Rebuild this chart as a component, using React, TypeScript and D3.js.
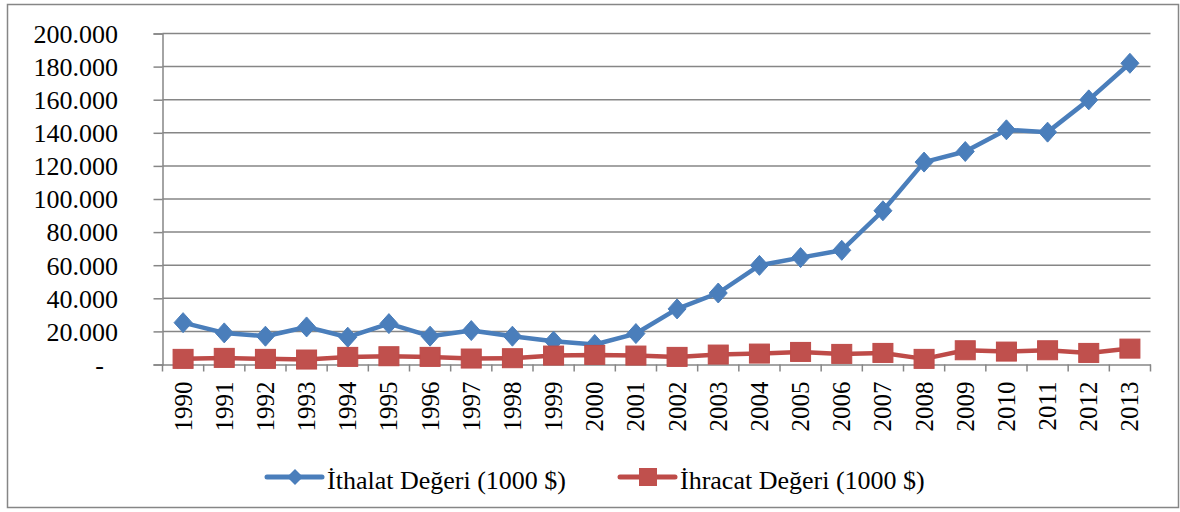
import React, { useRef, useEffect } from 'react';
import * as d3 from 'd3';

const years: string[] = [
    '1990', '1991', '1992', '1993', '1994', '1995', '1996', '1997', '1998', '1999', '2000', '2001',
    '2002', '2003', '2004', '2005', '2006', '2007', '2008', '2009', '2010', '2011', '2012', '2013',
];

// İthalat Değeri (1000 $)
const ithalat: number[] = [
    25300, 19100, 17100, 22700, 16500, 24700, 17100, 20500, 17100, 14100, 12100, 18700,
    33600, 43200, 59900, 64600, 69000, 92900, 122300, 128700, 141800, 140400, 159900, 182000,
];

// İhracat Değeri (1000 $)
const ihracat: number[] = [
    3400, 4000, 3400, 3000, 4600, 5000, 4600, 3600, 3800, 5400, 5800, 5400,
    4600, 6000, 6600, 7600, 6400, 7000, 3400, 8600, 7800, 8600, 7000, 9600,
];

const yTicks: number[] = [0, 20000, 40000, 60000, 80000, 100000, 120000, 140000, 160000, 180000, 200000];

const seriesNames: string[] = ['İthalat Değeri (1000 $)', 'İhracat Değeri (1000 $)'];

const BLUE = '#4A7EBB';
const RED = '#BE4B48';
const GRID = '#868686';
const FONT = "'Liberation Serif', 'Times New Roman', serif";

const trLocale = d3.formatLocale({ decimal: ',', thousands: '.', grouping: [3], currency: ['', ''] });
const fmt = trLocale.format(',');

const App: React.FC = () => {
    const svgRef = useRef<SVGSVGElement | null>(null);

    useEffect(() => {
        if (!svgRef.current) return;
        const svg = d3.select(svgRef.current);
        svg.selectAll('*').remove();

        const width = 1180;
        const height = 512;
        const left = 162.5;
        const right = 1150.5;
        const top = 33.5;
        const bottom = 364.5;

        // outer frame
        svg.append('rect')
            .attr('x', 7.5).attr('y', 4.5)
            .attr('width', 1171).attr('height', 503)
            .attr('fill', '#fff')
            .attr('stroke', GRID)
            .attr('stroke-width', 1.5);

        const x = d3.scaleBand<string>().domain(years).range([left, right]);
        const y = d3.scaleLinear().domain([0, 200000]).range([bottom, top]);
        const cx = (d: string) => (x(d) as number) + x.bandwidth() / 2;

        // gridlines
        svg.append('g')
            .selectAll('line')
            .data(yTicks.filter(t => t > 0))
            .enter()
            .append('line')
            .attr('x1', left).attr('x2', right)
            .attr('y1', d => y(d)).attr('y2', d => y(d))
            .attr('stroke', GRID)
            .attr('stroke-width', 1.5);

        // y axis
        const yAxis = svg.append('g')
            .attr('transform', `translate(${left},0)`)
            .call(d3.axisLeft(y)
                .tickValues(yTicks)
                .tickSize(9)
                .tickPadding(35.5)
                .tickFormat((d: any) => (d === 0 ? '-' : fmt(d))));
        yAxis.select('.domain').attr('stroke', GRID).attr('stroke-width', 1.5);
        yAxis.selectAll('.tick line').attr('stroke', GRID).attr('stroke-width', 1.5);
        yAxis.selectAll('.tick text')
            .attr('font-family', FONT)
            .attr('font-size', 26)
            .attr('fill', '#000')
            .attr('dy', '0.34em');
        yAxis.selectAll('.tick text')
            .filter((d: any) => d === 0)
            .attr('dx', -14);

        // x axis
        const xAxis = svg.append('g')
            .attr('transform', `translate(0,${bottom})`)
            .call(d3.axisBottom(x).tickSize(0).tickPadding(0));
        xAxis.select('.domain').attr('stroke', GRID).attr('stroke-width', 1.5);
        xAxis.selectAll('.tick text')
            .attr('font-family', FONT)
            .attr('font-size', 25)
            .attr('fill', '#000')
            .attr('text-anchor', 'end')
            .attr('transform', 'rotate(-90)')
            .attr('x', -17)
            .attr('y', 0)
            .attr('dy', '0.34em');

        // x tick marks at category boundaries
        const bounds = years.map(d => x(d) as number).concat([right]);
        svg.append('g')
            .selectAll('line')
            .data(bounds)
            .enter()
            .append('line')
            .attr('x1', d => d).attr('x2', d => d)
            .attr('y1', bottom).attr('y2', bottom + 7)
            .attr('stroke', GRID)
            .attr('stroke-width', 1.5);

        const line = d3.line<number>()
            .x((_, i) => cx(years[i]))
            .y(d => y(d));

        // ithalat
        svg.append('path')
            .datum(ithalat)
            .attr('d', line)
            .attr('fill', 'none')
            .attr('stroke', BLUE)
            .attr('stroke-width', 4.5)
            .attr('stroke-linejoin', 'round');
        svg.append('g')
            .selectAll('path')
            .data(ithalat)
            .enter()
            .append('path')
            .attr('d', 'M0,-10L9,0L0,10L-9,0Z')
            .attr('transform', (d, i) => `translate(${cx(years[i])},${y(d)})`)
            .attr('fill', BLUE)
            .attr('stroke', BLUE)
            .attr('stroke-width', 1);

        // ihracat
        svg.append('path')
            .datum(ihracat)
            .attr('d', line)
            .attr('fill', 'none')
            .attr('stroke', RED)
            .attr('stroke-width', 4.5)
            .attr('stroke-linejoin', 'round');
        svg.append('g')
            .selectAll('rect')
            .data(ihracat)
            .enter()
            .append('rect')
            .attr('x', (_, i) => cx(years[i]) - 10)
            .attr('y', d => y(d) - 9.5)
            .attr('width', 20)
            .attr('height', 19)
            .attr('fill', '#C0504D')
            .attr('stroke', RED)
            .attr('stroke-width', 1);

        // legend
        const legendY = 477;
        const legendItems = [
            { name: seriesNames[0], color: BLUE, x0: 267, shape: 'diamond' },
            { name: seriesNames[1], color: RED, x0: 620, shape: 'square' },
        ];
        const lg = svg.append('g');
        legendItems.forEach(item => {
            lg.append('line')
                .attr('x1', item.x0).attr('x2', item.x0 + 55)
                .attr('y1', legendY).attr('y2', legendY)
                .attr('stroke', item.color)
                .attr('stroke-width', 5)
                .attr('stroke-linecap', 'round');
            const mx = item.x0 + 28;
            if (item.shape === 'diamond') {
                lg.append('path')
                    .attr('d', `M${mx},${legendY - 8}L${mx + 8},${legendY}L${mx},${legendY + 8}L${mx - 8},${legendY}Z`)
                    .attr('fill', item.color);
            } else {
                lg.append('rect')
                    .attr('x', mx - 9).attr('y', legendY - 9)
                    .attr('width', 18).attr('height', 18)
                    .attr('fill', '#C0504D');
            }
            lg.append('text')
                .attr('x', item.x0 + 60)
                .attr('y', legendY + 12)
                .attr('font-family', FONT)
                .attr('font-size', 26)
                .attr('fill', '#000')
                .text(item.name);
        });
    }, []);

    return (
        <div style={{ position: 'absolute', left: 0, top: 0 }}>
            <svg ref={svgRef} width={1180} height={512} style={{ display: 'block' }}></svg>
        </div>
    );
};

export default App;
